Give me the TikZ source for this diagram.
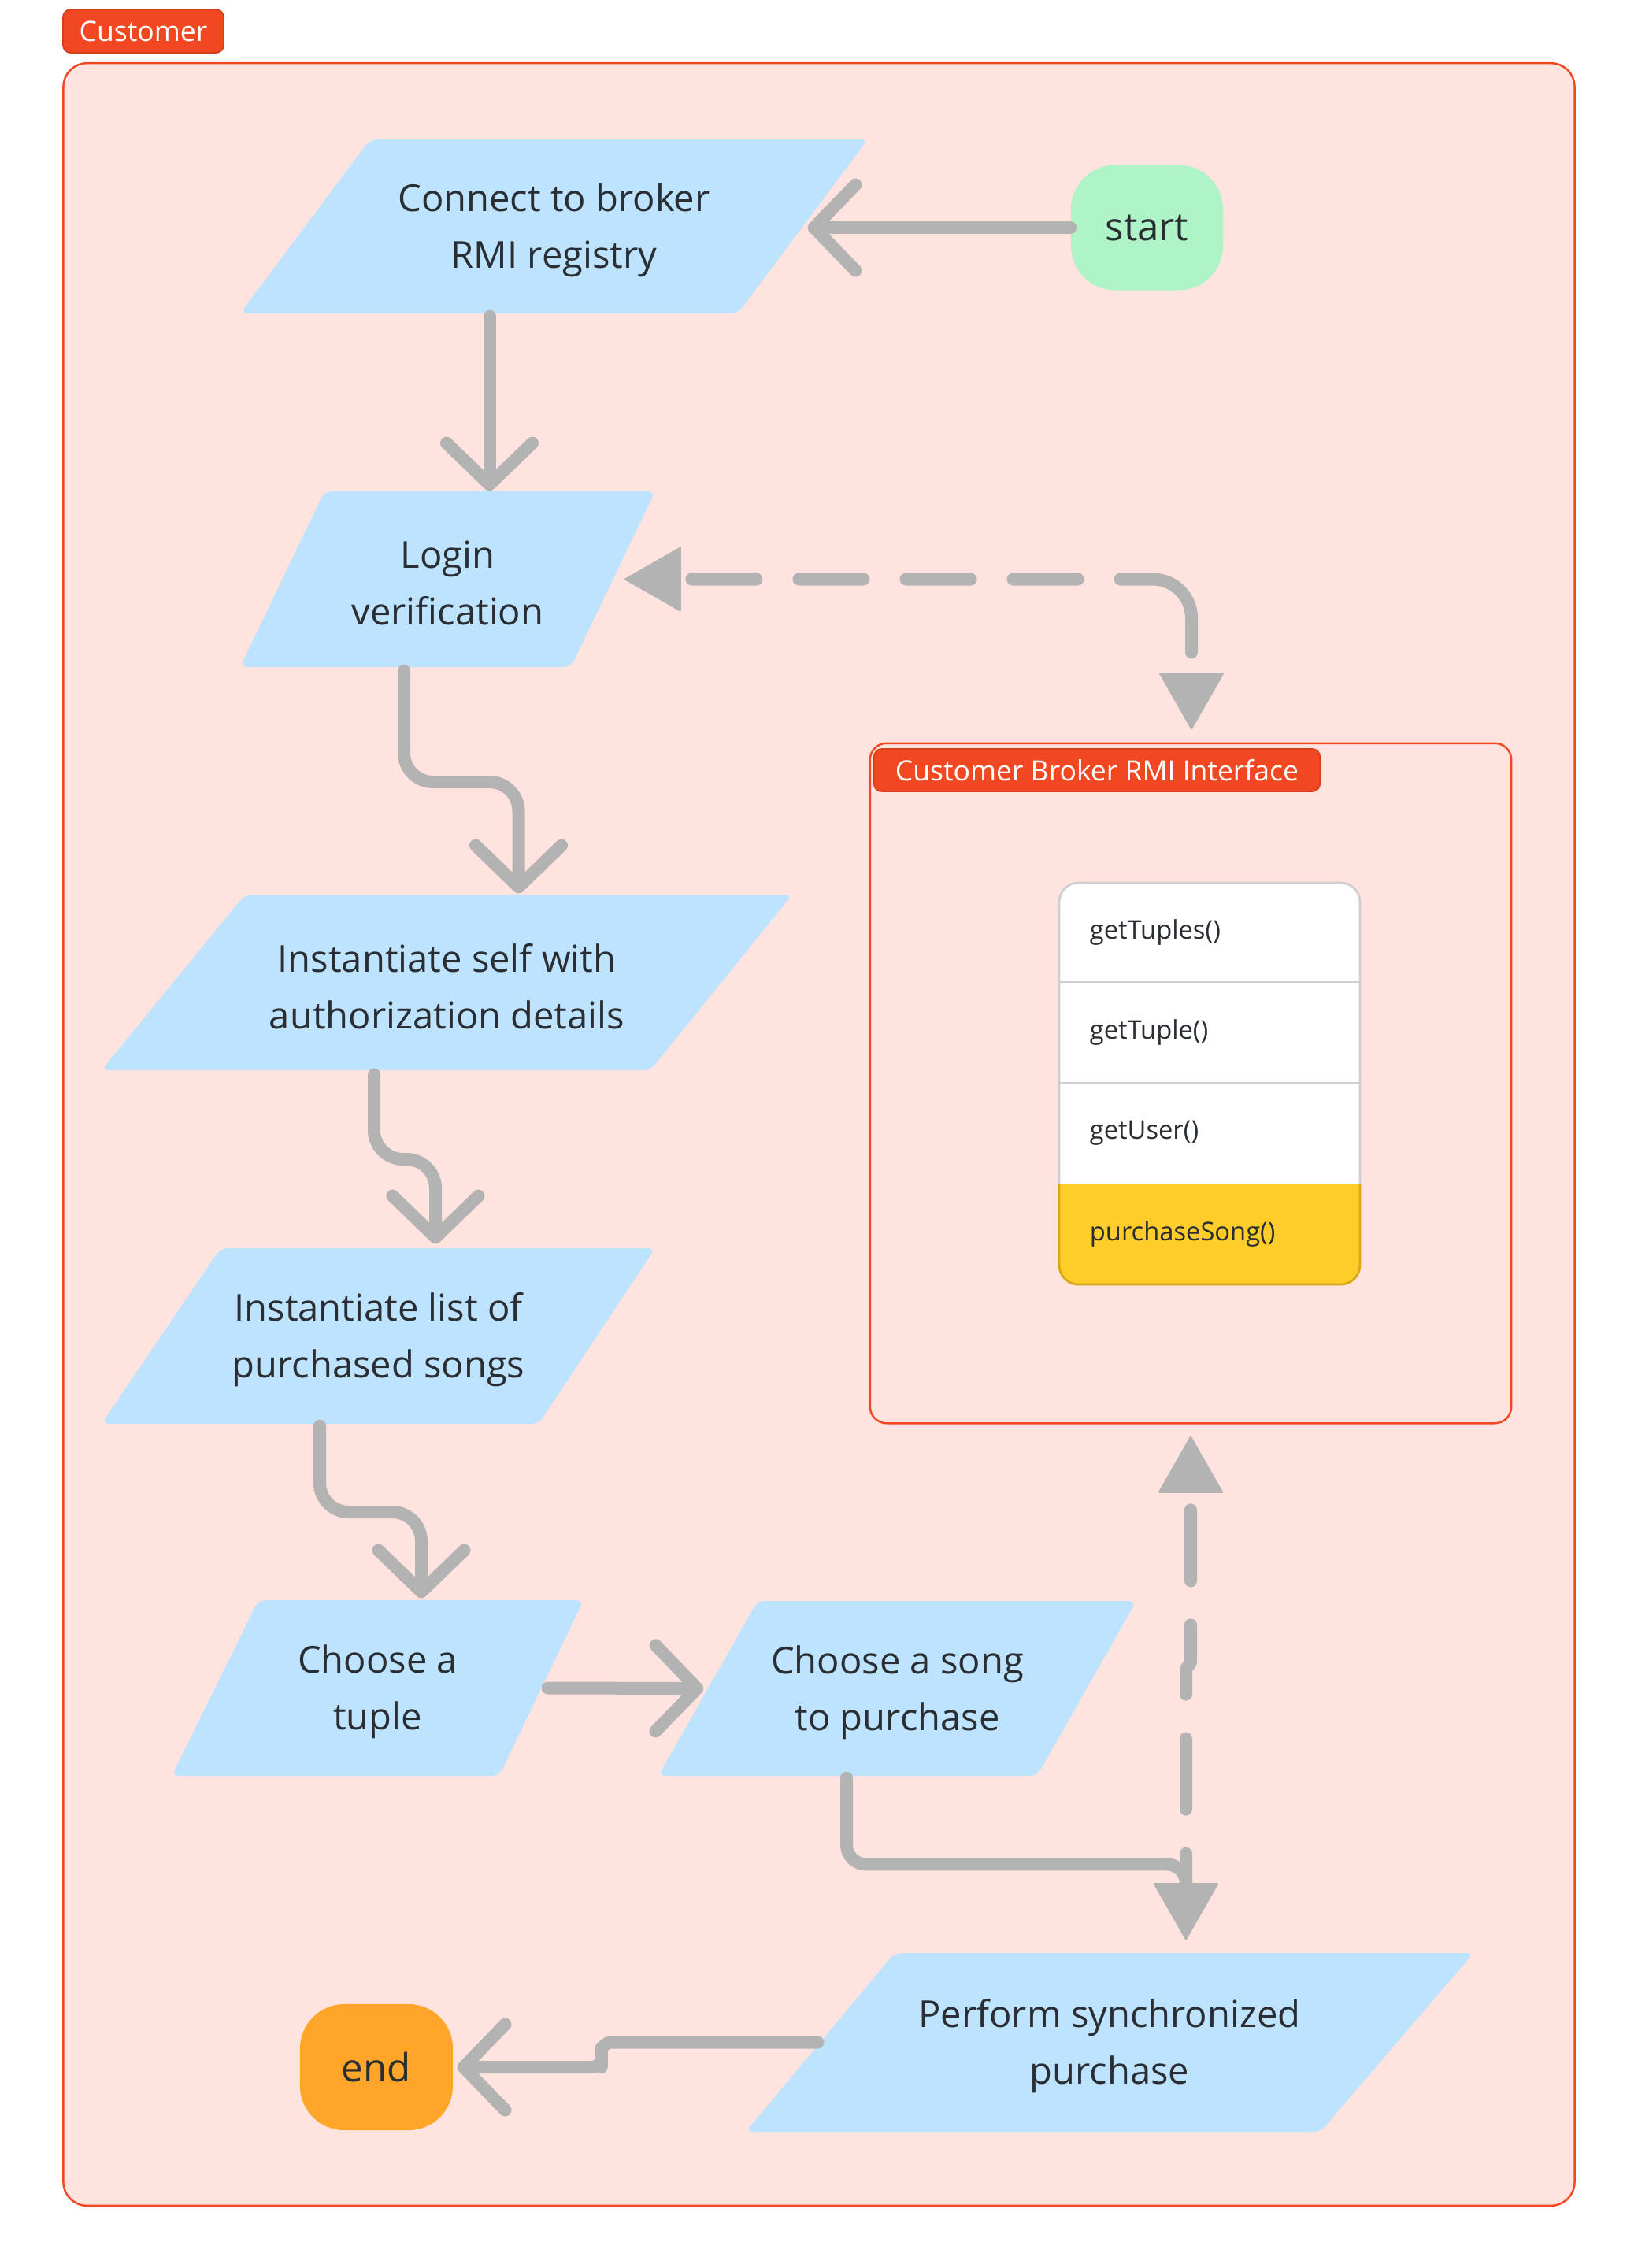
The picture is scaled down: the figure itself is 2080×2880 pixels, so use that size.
\documentclass[tikz,border=0pt]{standalone}
\usepackage{fontspec}
\setmainfont{Open Sans}
\usetikzlibrary{arrows.meta,calc}

\definecolor{bgpink}{HTML}{FFE3DF}
\definecolor{frame}{HTML}{F24822}
\definecolor{framedark}{HTML}{D63F1C}
\definecolor{iob}{HTML}{BDE3FF}
\definecolor{startg}{HTML}{AFF4C6}
\definecolor{endo}{HTML}{FFA629}
\definecolor{methy}{HTML}{FFCD29}
\definecolor{methyd}{HTML}{D9A816}
\definecolor{wire}{HTML}{B3B3B3}
\definecolor{ink}{HTML}{2A2E33}
\definecolor{rowline}{HTML}{CFCFCF}

\tikzset{
  iofill/.style={fill=iob, rounded corners=2.5pt},
  iobody/.style={rectangle, inner sep=0pt},
  iotext/.style={rectangle, inner sep=0pt, align=center, text=ink,
    font=\fontsize{13.4}{20.5}\selectfont},
  terminal/.style={rectangle, rounded corners=16pt, inner sep=0pt,
    minimum width=1.93cm, minimum height=1.59cm, text=ink,
    font=\fontsize{14}{17}\selectfont},
  tag/.style={rectangle, rounded corners=2.8pt, fill=frame, draw=framedark,
    line width=0.5pt, text=white, inner sep=0pt,
    font=\fontsize{10.1}{12}\selectfont},
  wireline/.style={draw=wire, line width=4.55pt, line cap=round, line join=round},
  flow/.style={wireline, rounded corners=10.5pt,
    -{Straight Barb[length=15pt, width=31pt, round]}},
  flowfilled/.style={wireline, rounded corners=7pt,
    -{Triangle[length=20.8pt, width=23.6pt, round, line width=0.5pt]}},
  both/.style={wireline, rounded corners=14pt,
    {Triangle[length=20.8pt, width=23.6pt, round, line width=0.5pt]}-{Triangle[length=20.8pt, width=23.6pt, round, line width=0.5pt]}},
  rowcell/.style={rectangle, inner xsep=0.39cm, inner ysep=0pt, text width=3.04cm,
    minimum height=1.27cm, align=left, text=ink, font=\fontsize{9.3}{11}\selectfont},
}

% parallelogram: name, x bottom-left, x top-left, x top-right, x bottom-right, y top, y bottom, text
\newcommand\iobox[8]{%
  \fill[iofill] (#3,#6) -- (#4,#6) -- (#5,#7) -- (#2,#7) -- cycle;
  \node[iobody, minimum width={(#4-#2)*0.01cm}, minimum height={(#7-#6)*0.01cm}]
    (#1) at ({(#2+#4)/2},{(#6+#7)/2}) {};
  \node[iotext] (#1text) at ($(#1.center)+(0,5)$) {#8};
}

\begin{document}
\begin{tikzpicture}[x=0.01cm, y=-0.01cm]
  \fill[white] (0,0) rectangle (2080,2880);
  \useasboundingbox (0,0) rectangle (2080,2880);

  % swimlane
  \node[draw=frame, fill=bgpink, line width=0.7pt, rounded corners=8.5pt,
        minimum width=19.18cm, minimum height=27.19cm, inner sep=0pt] (customer) at (1040,1440.5) {};
  \node[tag, minimum width=2.04cm, minimum height=0.55cm] (customertag) at (182,39.5) {Customer};

  % interface group
  \node[draw=frame, line width=0.7pt, rounded corners=6pt,
        minimum width=8.14cm, minimum height=8.63cm, inner sep=0pt] (rmi) at (1512,1375.5) {};
  \node[tag, minimum width=5.66cm, minimum height=0.54cm] (rmitag) at (1393,978) {Customer Broker RMI Interface};

  % method list
  \fill[white, rounded corners=7pt] (1345,1121) rectangle (1727,1631);
  \begin{scope}
    \clip (1330,1503) rectangle (1740,1650);
    \fill[methy, rounded corners=7pt] (1345,1121) rectangle (1727,1631);
  \end{scope}
  \draw[rowline, line width=0.7pt] (1345,1247) -- (1727,1247);
  \draw[rowline, line width=0.7pt] (1345,1375) -- (1727,1375);
  \begin{scope}
    \clip (1330,1100) rectangle (1740,1503);
    \draw[rowline, line width=0.8pt, rounded corners=7pt] (1345,1121) rectangle (1727,1631);
  \end{scope}
  \begin{scope}
    \clip (1330,1503) rectangle (1740,1650);
    \draw[methyd, line width=0.8pt, rounded corners=7pt] (1345,1121) rectangle (1727,1631);
  \end{scope}
  \node[rowcell] (r1) at (1536,1184) {getTuples()};
  \node[rowcell] (r2) at (1536,1311) {getTuple()};
  \node[rowcell] (r3) at (1536,1439) {getUser()};
  \node[rowcell] (r4) at (1536,1567) {purchaseSong()};

  % process steps
  \iobox{conn}{305}{470}{1102}{937}{177}{398}{Connect to broker\\RMI registry}
  \iobox{login}{305}{412}{832}{725}{624}{847}{Login\\verification}
  \iobox{selfnode}{129}{311}{1006}{826}{1136}{1359}{Instantiate self with\\authorization details}
  \iobox{list}{129}{280}{832}{684}{1585}{1808}{Instantiate list of\\purchased songs}
  \iobox{tuple}{218}{328}{741}{634}{2032}{2255}{Choose a\\tuple}
  \iobox{song}{836}{962}{1443}{1317}{2033}{2255}{Choose a song\\to purchase}
  \iobox{perform}{947}{1136}{1871}{1677}{2480}{2707}{Perform synchronized\\purchase}

  \node[terminal, fill=startg] (startnode) at (1456.5,289) {start};
  \node[terminal, fill=endo, minimum width=1.94cm, minimum height=1.6cm] (endnode) at (478,2625) {end};

  % connectors
  \coordinate (t0) at ($(conn.east)+(-77,0)$);
  \draw[flow] (startnode.west) -- (t0 |- startnode.west);

  \coordinate (a1) at ($(conn.south)+(-82,3)$);
  \draw[flow] (a1) -- (a1 |- login.north);

  \coordinate (a2) at ($(login.south)+(-55.5,4)$);
  \coordinate (b2) at ($(selfnode.north)+(91,-1)$);
  \coordinate (m2) at ($(a2)!0.5!(b2)$);
  \draw[flow] (a2) -- (a2 |- m2) -- (b2 |- m2) -- (b2);

  \coordinate (a3) at ($(selfnode.south)+(-92.5,5)$);
  \coordinate (b3) at ($(list.north)+(72.5,-5)$);
  \coordinate (m3) at ($(a3)!0.5!(b3)$);
  \draw[flow] (a3) -- (a3 |- m3) -- (b3 |- m3) -- (b3);

  \coordinate (a4) at ($(list.south)+(-74.5,2)$);
  \coordinate (b4) at ($(tuple.north)+(55.5,-2)$);
  \coordinate (m4) at ($(a4)!0.5!(b4)$);
  \draw[flow] (a4) -- (a4 |- m4) -- (b4 |- m4) -- (b4);

  \draw[flow] ($(tuple.east)+(-46,0)$) -- ($(song.west)+(58,0)$);

  % login <-> interface, the last dash runs round the bend
  \draw[both, dash pattern=on 23.33pt off 15.36pt on 23.33pt off 15.36pt on 23.33pt off 15.36pt on 23.33pt off 15.36pt on 46.09pt off 85.36pt,
        dash phase=282.25pt]
    ($(login.east)+(-40,0)$) -| ($(rmi.north)+(1,-16)$);

  % interface <-> purchase
  \coordinate (c1) at ($(rmi.south)+(0,15)$);
  \coordinate (c2) at ($(perform.north)+(97,-16)$);
  \coordinate (c3) at ($(c2)+(0,-96)$);
  \draw[both, rounded corners=1pt, dash pattern=on 25.61pt off 15.93pt, dash phase=35.28pt]
    (c1) -- ($(c1)+(0,290)$) -- ($(c2)+(0,-346)$) -- (c2);

  \coordinate (s1) at ($(song.south)+(-64.5,2)$);
  \draw[flowfilled] (s1) -- (s1 |- c3) -- (c3) -- (c2);

  \coordinate (p1) at ($(perform.west)+(92,0)$);
  \coordinate (e1) at ($(endnode.east)+(5,0)$);
  \coordinate (j1) at ($(p1)!0.6!(e1)$);
  \draw[flow, rounded corners=3.5pt] (p1) -| (j1) |- (e1);
\end{tikzpicture}
\end{document}
